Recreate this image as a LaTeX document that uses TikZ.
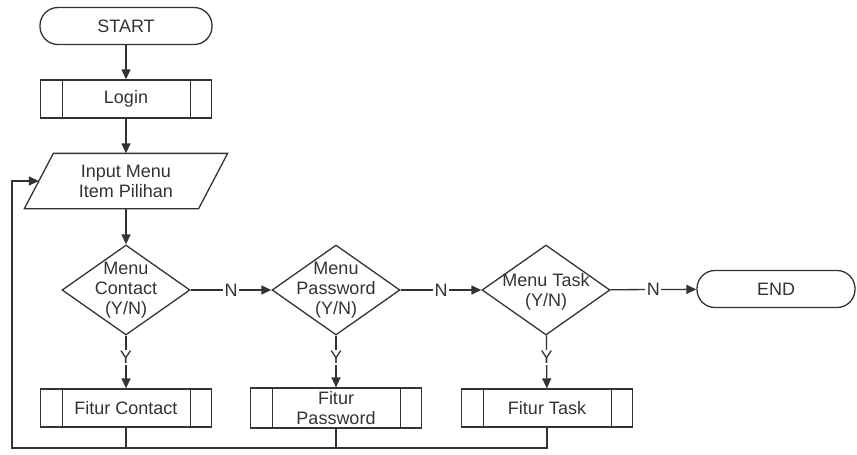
\documentclass[tikz,border=0pt]{standalone}
\usepackage{fontspec}
\setmainfont{Liberation Sans}
\usetikzlibrary{shapes.geometric,arrows.meta}

\begin{document}
\begin{tikzpicture}[x=1pt,y=-1pt,line width=1.3pt,color=black!80,
  font=\fontsize{18}{20}\selectfont,
  term/.style={draw,rounded corners=18pt,minimum width=172pt,minimum height=37pt},
  subproc/.style={draw,minimum width=171pt,minimum height=38pt,
    path picture={
      \draw ([xshift=22pt]path picture bounding box.north west) -- ([xshift=22pt]path picture bounding box.south west);
      \draw ([xshift=-21pt]path picture bounding box.north east) -- ([xshift=-21pt]path picture bounding box.south east);}},
  dec/.style={draw,diamond,minimum width=128pt,minimum height=90pt,inner sep=0pt},
  arr/.style={-{Triangle[length=10pt,width=9pt]}},
  lbl/.style={fill=white,inner sep=1.5pt}]
\useasboundingbox (0,0) rectangle (857,455);
\node[term] (start) at (126,26) {START};
\node[subproc] (login) at (126,99) {Login};
\node[minimum width=173pt,minimum height=54pt,align=center] (inp) at (126,181) {Input Menu\\Item Pilihan};
\draw ([xshift=14.5pt]inp.north west) -- ([xshift=14.5pt]inp.north east)
  -- ([xshift=-14.5pt]inp.south east) -- ([xshift=-14.5pt]inp.south west) -- cycle;
\node[dec] (mc) at (126,290) {};
\node[dec] (mp) at (336,290) {};
\node[dec] (mt) at (546,290) {};
\node[align=center] at (mc) {Menu\\Contact\\(Y/N)};
\node[align=center] at (mp) {Menu\\Password\\(Y/N)};
\node[align=center] at (546,292) {Menu Task\\(Y/N)};
\node[term,minimum width=158pt] (end) at (776,289) {END};
\node[subproc] (fc) at (126,408) {Fitur Contact};
\node[subproc,align=center] (fp) at (336,408) {Fitur\\Password};
\node[subproc] (ft) at (547,408) {Fitur Task};
\coordinate (back) at (12,448);
\draw[arr] (start) -- (login);
\draw[arr] (login) -- (inp);
\draw[arr] (inp) -- (mc);
\draw[arr] (mc) -- node[lbl]{N} (mp);
\draw[arr] (mp) -- node[lbl]{N} (mt);
\draw[arr] (mt) -- node[lbl]{N} (end);
\draw[arr] (mc) -- node[lbl,pos=0.42]{Y} (fc);
\draw[arr] (mp) -- node[lbl,pos=0.42]{Y} (fp);
\draw[arr] (mt) -- node[lbl,pos=0.42]{Y} (ft);
\draw (fc.south) -- (fc.south |- back);
\draw (fp.south) -- (fp.south |- back);
\draw[arr] (ft.south) |- (back) |- (inp.west);
\end{tikzpicture}
\end{document}
